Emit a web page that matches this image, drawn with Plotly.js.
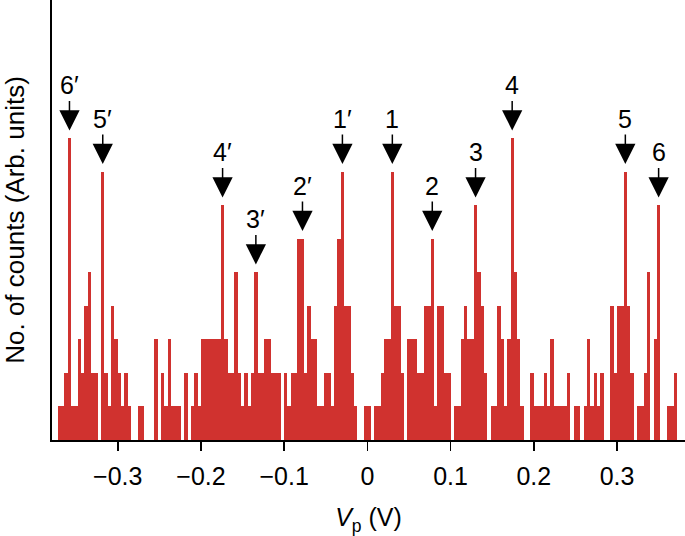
<!DOCTYPE html>
<html>
<head>
<meta charset="utf-8">
<script src="https://cdn.plot.ly/plotly-3.0.1.min.js"></script>
<style>html,body{margin:0;padding:0;background:#fff;}#chart{width:685px;height:536px;}</style>
</head>
<body>
<div id="chart"></div>
<script>
// Histogram bins: first bin centre and bin width (V)
const binCenterStart = -0.370;
const binWidth = 0.004;

// Counts per bin (arbitrary units), left to right
const counts = [
  1,1,2,9,1,1,3,2,4,5,
  2,2,0,8,2,1,4,3,2,1,
  2,1,0,0,1,1,0,0,0,3,
  0,2,1,3,1,1,1,0,2,0,
  1,2,1,3,3,3,3,3,3,7,
  3,2,2,5,2,1,2,1,2,5,
  2,2,3,3,2,2,2,0,2,1,
  2,2,6,6,2,4,3,3,1,1,
  2,2,1,4,6,8,4,4,2,1,
  0,0,1,1,0,1,1,2,3,3,
  8,4,4,2,0,3,3,3,2,2,
  4,4,6,1,4,4,2,2,0,1,
  1,3,4,3,3,7,5,4,2,0,
  1,1,4,3,1,3,9,5,3,1,
  0,0,2,1,1,1,2,1,3,1,
  1,1,1,2,0,1,1,0,1,3,
  1,2,1,2,0,0,4,2,4,4,
  8,4,2,0,1,1,2,5,0,3,
  7,0,0,1,1,2,0,0
];

// Labelled peaks
const peakLabels = ['6′','5′','4′','3′','2′','1′','1','2','3','4','5','6'];
const peakV      = [-0.358,-0.318,-0.174,-0.134,-0.078,-0.030,0.030,0.078,0.130,0.174,0.310,0.350];
const peakCounts = [9,8,7,5,6,8,8,6,7,9,8,7];

// Axis ticks
const xTickVals  = [-0.3,-0.2,-0.1,0,0.1,0.2,0.3];

const FONT = 'Liberation Sans, Arial, Helvetica, sans-serif';

const trace = {
  type: 'bar',
  x0: binCenterStart,
  dx: binWidth,
  y: counts,
  marker: {color: '#d0322f', line: {width: 0}},
  hoverinfo: 'x+y'
};

const annotations = peakLabels.map((t, i) => ({
  x: peakV[i], y: peakCounts[i], xref: 'x', yref: 'y',
  text: t, showarrow: true, ax: 0, ay: -53,
  arrowhead: 2, arrowsize: 2.7, arrowwidth: 1.5, arrowcolor: '#000',
  standoff: 8, font: {family: FONT, size: 25, color: '#000'}
}));

const layout = {
  width: 685, height: 536,
  margin: {l: 52, r: 0, t: 0, b: 96},
  paper_bgcolor: '#fff', plot_bgcolor: '#fff',
  bargap: 0,
  showlegend: false,
  font: {family: FONT, color: '#000'},
  xaxis: {
    range: [-0.379, 0.3817],
    tickvals: xTickVals,
    ticks: 'outside', ticklen: 9, tickwidth: 1.6, tickcolor: '#000',
    ticklabelstandoff: 4,
    showline: true, linewidth: 1.7, linecolor: '#000',
    showgrid: false, zeroline: false,
    tickfont: {family: FONT, size: 25, color: '#000'},
    title: {text: '<i>V</i><sub>p</sub> (V)', font: {family: FONT, size: 25, color: '#000'}, standoff: 20}
  },
  yaxis: {
    range: [0, 13.13],
    showticklabels: false, ticks: '',
    showline: true, linewidth: 1.7, linecolor: '#000',
    showgrid: false, zeroline: false,
    title: {text: 'No. of counts (Arb. units)', font: {family: FONT, size: 26, color: '#000'}, standoff: 22}
  },
  annotations: annotations
};

Plotly.newPlot('chart', [trace], layout, {displayModeBar: false, staticPlot: true});
</script>
</body>
</html>
